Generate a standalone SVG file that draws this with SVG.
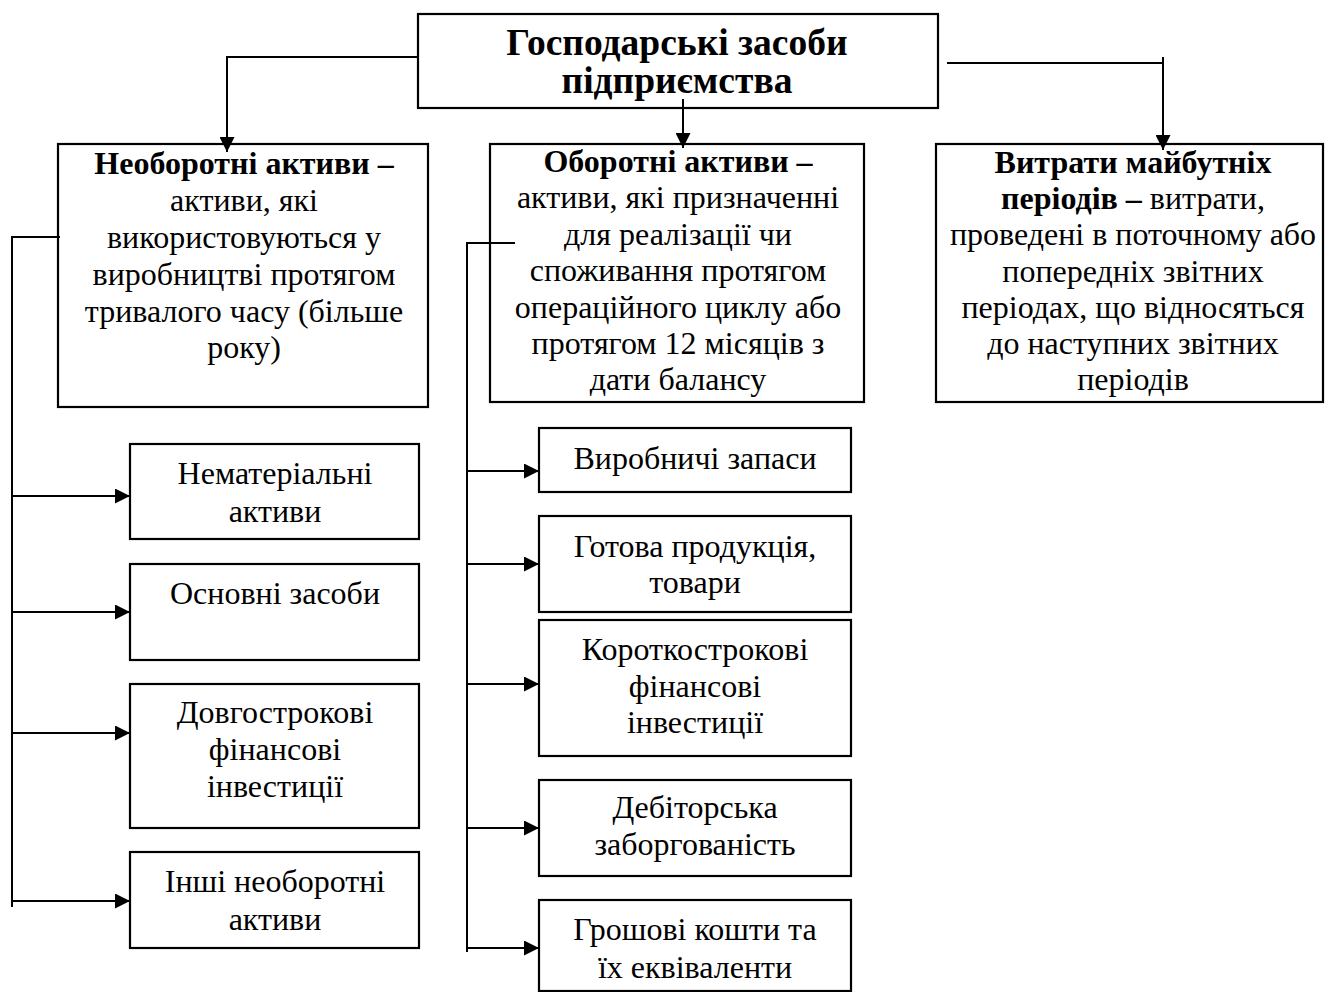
<svg xmlns="http://www.w3.org/2000/svg" width="1328" height="992" viewBox="0 0 1328 992">
<style>
  .box { fill: #fff; stroke: #000; stroke-width: 2.2; }
  .t { font-family: "Liberation Serif", "Times New Roman", serif; font-size: 32px; fill: #000; text-anchor: middle; }
  .b { font-weight: bold; }
  .title { font-size: 37.5px; font-weight: bold; }
  .ln { fill: none; stroke: #000; stroke-width: 2; }
</style>
<defs>
  <marker id="ah" viewBox="0 0 15 15" refX="15" refY="7.5" markerWidth="15" markerHeight="15" markerUnits="userSpaceOnUse" orient="auto">
    <path d="M0,0 L15,7.5 L0,15 Z" fill="#000"/>
  </marker>
</defs>
<rect width="1328" height="992" fill="#fff"/>

<g id="n-root">
  <rect class="box" x="418" y="14" width="520" height="94"/>
  <text class="t title" x="677" y="55">Господарські засоби</text>
  <text class="t title" x="677" y="93">підприємства</text>
</g>

<g id="n-noncurrent">
  <rect class="box" x="58" y="144" width="370" height="263"/>
  <text class="t" x="244" y="174"><tspan class="b">Необоротні активи –</tspan></text>
  <text class="t" x="244" y="211">активи, які</text>
  <text class="t" x="244" y="248">використовуються у</text>
  <text class="t" x="244" y="285">виробництві протягом</text>
  <text class="t" x="244" y="322">тривалого часу (більше</text>
  <text class="t" x="244" y="358">року)</text>
</g>

<g id="n-current">
  <rect class="box" x="490" y="144" width="374" height="258"/>
  <text class="t" x="678" y="172"><tspan class="b">Оборотні активи –</tspan></text>
  <text class="t" x="678" y="208">активи, які призначенні</text>
  <text class="t" x="678" y="245">для реалізації чи</text>
  <text class="t" x="678" y="281">споживання протягом</text>
  <text class="t" x="678" y="318">операційного циклу або</text>
  <text class="t" x="678" y="354">протягом 12 місяців з</text>
  <text class="t" x="678" y="390">дати балансу</text>
</g>

<g id="n-deferred">
  <rect class="box" x="936" y="144" width="387" height="258"/>
  <text class="t b" x="1133" y="173">Витрати майбутніх</text>
  <text class="t" x="1133" y="209"><tspan class="b">періодів –</tspan> витрати,</text>
  <text class="t" x="1133" y="245">проведені в поточному або</text>
  <text class="t" x="1133" y="282">попередніх звітних</text>
  <text class="t" x="1133" y="318">періодах, що відносяться</text>
  <text class="t" x="1133" y="354">до наступних звітних</text>
  <text class="t" x="1133" y="390">періодів</text>
</g>

<g id="n-intangible">
  <rect class="box" x="130" y="444" width="289" height="95"/>
  <text class="t" x="275" y="484">Нематеріальні</text>
  <text class="t" x="275" y="522">активи</text>
</g>
<g id="n-fixed">
  <rect class="box" x="130" y="564" width="289" height="96"/>
  <text class="t" x="275" y="604">Основні засоби</text>
</g>
<g id="n-ltinv">
  <rect class="box" x="130" y="684" width="289" height="144"/>
  <text class="t" x="275" y="723">Довгострокові</text>
  <text class="t" x="275" y="760">фінансові</text>
  <text class="t" x="275" y="797">інвестиції</text>
</g>
<g id="n-othernc">
  <rect class="box" x="130" y="852" width="289" height="96"/>
  <text class="t" x="275" y="892">Інші необоротні</text>
  <text class="t" x="275" y="930">активи</text>
</g>

<g id="n-inventory">
  <rect class="box" x="539" y="428" width="312" height="64"/>
  <text class="t" x="695" y="469">Виробничі запаси</text>
</g>
<g id="n-goods">
  <rect class="box" x="539" y="516" width="312" height="96"/>
  <text class="t" x="695" y="557">Готова продукція,</text>
  <text class="t" x="695" y="593">товари</text>
</g>
<g id="n-stinv">
  <rect class="box" x="539" y="620" width="312" height="136"/>
  <text class="t" x="695" y="660">Короткострокові</text>
  <text class="t" x="695" y="697">фінансові</text>
  <text class="t" x="695" y="733">інвестиції</text>
</g>
<g id="n-receivables">
  <rect class="box" x="539" y="780" width="312" height="96"/>
  <text class="t" x="695" y="818">Дебіторська</text>
  <text class="t" x="695" y="855">заборгованість</text>
</g>
<g id="n-cash">
  <rect class="box" x="539" y="900" width="312" height="91"/>
  <text class="t" x="695" y="940">Грошові кошти та</text>
  <text class="t" x="695" y="978">їх еквіваленти</text>
</g>

<g id="connectors">
  <polyline class="ln" points="418,57 227,57 227,152" marker-end="url(#ah)"/>
  <line class="ln" x1="683" y1="99" x2="683" y2="148" marker-end="url(#ah)"/>
  <line class="ln" x1="947" y1="63" x2="1163" y2="63"/>
  <line class="ln" x1="1163" y1="57" x2="1163" y2="150" marker-end="url(#ah)"/>

  <polyline class="ln" points="60,237 12,237 12,907"/>
  <line class="ln" x1="12" y1="496" x2="130" y2="496" marker-end="url(#ah)"/>
  <line class="ln" x1="12" y1="612" x2="130" y2="612" marker-end="url(#ah)"/>
  <line class="ln" x1="12" y1="733" x2="130" y2="733" marker-end="url(#ah)"/>
  <line class="ln" x1="12" y1="901" x2="130" y2="901" marker-end="url(#ah)"/>

  <polyline class="ln" points="515,243 467,243 467,952"/>
  <line class="ln" x1="467" y1="471" x2="539" y2="471" marker-end="url(#ah)"/>
  <line class="ln" x1="467" y1="564" x2="539" y2="564" marker-end="url(#ah)"/>
  <line class="ln" x1="467" y1="684" x2="539" y2="684" marker-end="url(#ah)"/>
  <line class="ln" x1="467" y1="828" x2="539" y2="828" marker-end="url(#ah)"/>
  <line class="ln" x1="467" y1="948" x2="539" y2="948" marker-end="url(#ah)"/>
</g>
</svg>
